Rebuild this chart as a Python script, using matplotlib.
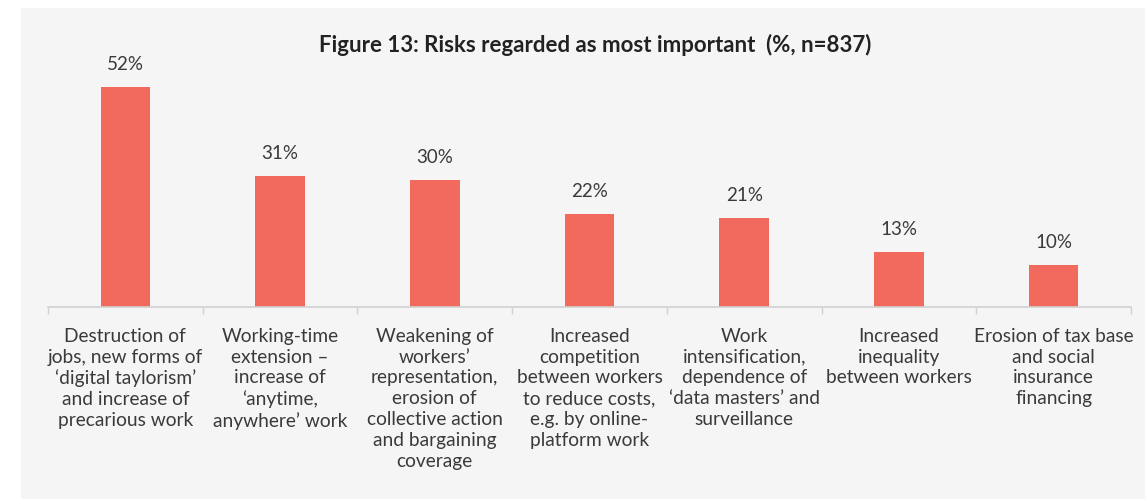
import numpy as np
import matplotlib.pyplot as plt
from matplotlib.patches import Rectangle

# data
categories = [
    "Destruction of\njobs, new forms of\n\u2018digital taylorism\u2019\nand increase of\nprecarious work",
    "Working-time\nextension \u2013\nincrease of\n\u2018anytime,\nanywhere\u2019 work",
    "Weakening of\nworkers\u2019\nrepresentation,\nerosion of\ncollective action\nand bargaining\ncoverage",
    "Increased\ncompetition\nbetween workers\nto reduce costs,\ne.g. by online-\nplatform work",
    "Work\nintensification,\ndependence of\n\u2018data masters\u2019 and\nsurveillance",
    "Increased\ninequality\nbetween workers",
    "Erosion of tax base\nand social\ninsurance\nfinancing",
]
values = [52, 31, 30, 22, 21, 13, 10]
value_labels = ["52%", "31%", "30%", "22%", "21%", "13%", "10%"]

plt.rcParams['font.family'] = ['Lato', 'DejaVu Sans']
text_color = "#3a3a3a"

fig = plt.figure(figsize=(11.45, 4.99), dpi=100)
fig.patch.set_facecolor("white")
# light grey panel behind the chart
fig.patches.append(Rectangle((21 / 1145, 0), 1 - 21 / 1145, 1 - 8 / 499,
                             transform=fig.transFigure, facecolor="#f5f5f5",
                             edgecolor="none", zorder=-10))

ax = fig.add_axes([48 / 1145, 192 / 499, (1131 - 48) / 1145, 254 / 499])
ax.set_facecolor("none")

x = np.arange(len(values))
bars = ax.bar(x, values, width=0.32, color="#f26a5e")

for xi, v, lab in zip(x, values, value_labels):
    ax.annotate(lab, (xi, v), xytext=(0, 10), textcoords="offset points",
                ha="center", va="bottom", fontsize=13.5, color=text_color)

ax.set_xlim(-0.5, len(values) - 0.5)
ax.set_ylim(0, 60)
ax.set_yticks([])

ax.set_xticks(x)
ax.set_xticklabels(categories, fontsize=13.8, color=text_color, linespacing=1.27)
ax.tick_params(axis="x", which="major", length=0, pad=15)
ax.set_xticks(np.arange(-0.5, len(values)), minor=True)
ax.tick_params(axis="x", which="minor", length=5, color="#d0d0d0", width=1)

for s in ["top", "right", "left"]:
    ax.spines[s].set_visible(False)
ax.spines["bottom"].set_color("#d0d0d0")
ax.spines["bottom"].set_linewidth(1.2)

fig.text(595 / 1145, 1 - 45 / 499,
         "Figure 13: Risks regarded as most important  (%, n=837)",
         ha="center", va="center", fontsize=16, fontweight="bold", color="#222222")

fig.savefig("out.png", dpi=100)
